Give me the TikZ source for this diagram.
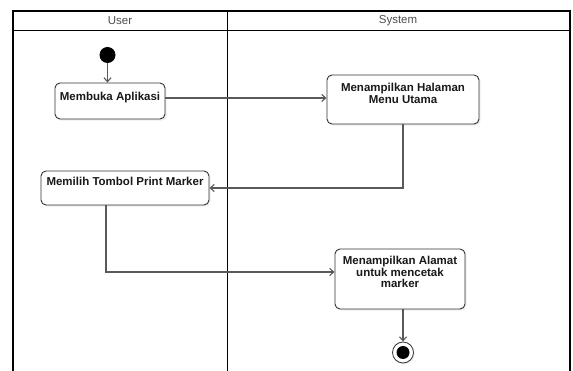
\documentclass[tikz,border=0pt]{standalone}
\usepackage{fontspec}
\setmainfont{Liberation Sans}
\usetikzlibrary{arrows.meta,shadows}
\begin{document}
\begin{tikzpicture}[x=1pt,y=-1pt,
  act/.style={draw=black!80, line width=0.9pt, rounded corners=5pt, fill=white,
    inner sep=0pt, drop shadow={shadow xshift=1.6pt, shadow yshift=-1.6pt, fill=black!14}},
  acttext/.style={font=\bfseries\fontsize{11.5}{11.5}\selectfont, text=black!90,
    align=center, inner sep=0pt, anchor=north},
  flow/.style={draw=black!65, line width=1.1pt, -{Straight Barb[length=4pt,width=7pt]}},
  link/.style={draw=black!65, line width=1.1pt},
  head/.style={font=\fontsize{11.5}{12}\selectfont, text=black!70},
  lane/.style={draw=black},
]
\useasboundingbox (0,0) rectangle (573,371);

% swimlane frame
\draw[lane, line width=2pt] (12.5,11) -- (12.5,372);
\draw[lane, line width=2pt] (570,11) -- (570,372);
\draw[lane, line width=1.2pt] (11.5,11) -- (571,11);
\draw[lane, line width=1pt] (12.5,30.5) -- (570,30.5);
\draw[lane, line width=1pt] (227.5,11) -- (227.5,372);
\node[head] (userlbl) at (120,21) {User};
\node[head] (syslbl) at (398,21) {System};

% start / end states
\node[circle, fill=black, minimum size=16pt, inner sep=0pt] (start) at (107.5,55) {};
\node[circle, draw=black!80, line width=0.8pt, fill=white, minimum size=21pt, inner sep=0pt,
  drop shadow={shadow xshift=1.4pt, shadow yshift=-1.4pt, fill=black!14}] (end) at (403,352.5) {};
\node[circle, fill=black, minimum size=13pt, inner sep=0pt] (endc) at (end) {};

% activities
\node[act, minimum width=110pt, minimum height=36pt] (a) at (110,101) {};
\node[acttext] (at) at ([yshift=-9.5pt]a.north) {Membuka Aplikasi};

\node[act, minimum width=152pt, minimum height=49pt] (b) at (403,99.5) {};
\node[acttext] (bt) at ([yshift=-8.7pt]b.north) {Menampilkan Halaman\\Menu Utama};

\node[act, minimum width=168pt, minimum height=34pt] (c) at (125,188) {};
\node[acttext] (ct) at ([yshift=-6.8pt]c.north) {Memilih Tombol Print Marker};

\node[act, minimum width=130pt, minimum height=60pt] (d) at (400,279) {};
\node[acttext] (dt) at ([yshift=-7.7pt]d.north) {Menampilkan Alamat\\untuk mencetak\\marker};

% control flow
\coordinate (r1) at (0,98);
\coordinate (k2) at (106,272);
\draw[flow] (start) -- (start |- a.north);
\draw[flow] (a.east |- r1) -- (b.west |- r1);
\draw[flow] (b.south) |- (c.east);
\draw[flow] (c.south -| k2) |- (d.west |- k2);
\draw[flow] (end |- d.south) -- (end.north);
\end{tikzpicture}
\end{document}
